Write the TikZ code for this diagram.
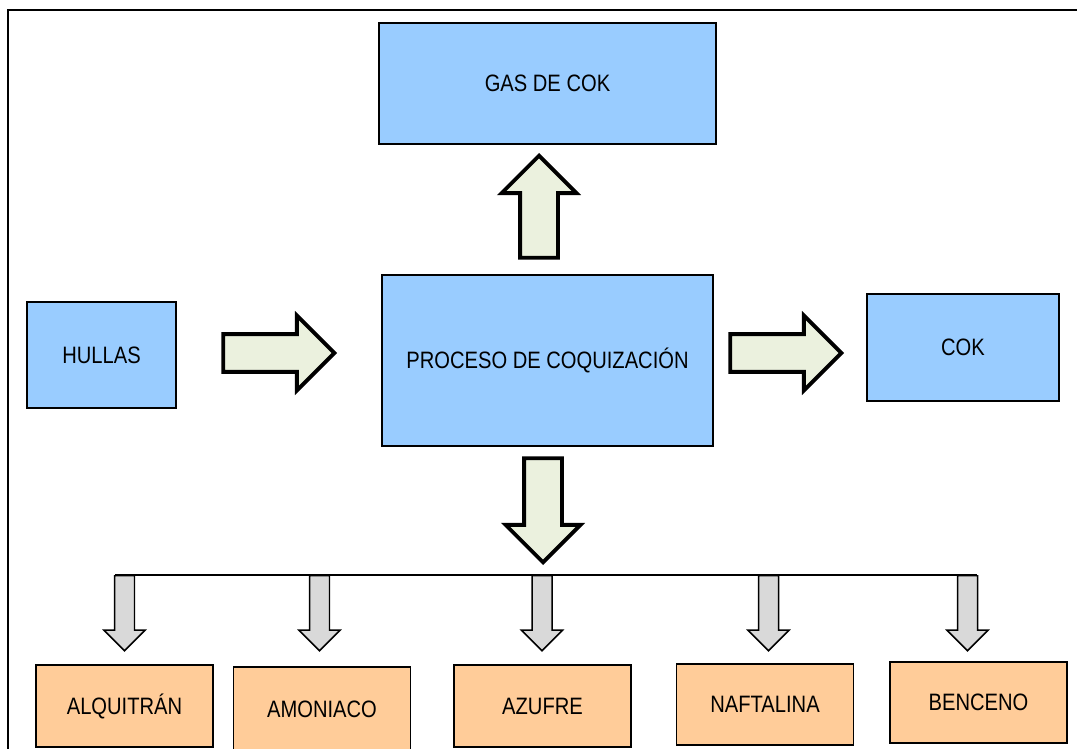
\documentclass[tikz,border=0pt]{standalone}
\usepackage{fontspec}
\setmainfont{Liberation Sans}[FakeStretch=0.85]
\usepackage{xcolor}
\definecolor{cokblue}{RGB}{153,204,255}
\definecolor{cokorange}{RGB}{255,204,153}
\definecolor{arrowfill}{RGB}{235,241,222}
\definecolor{arrowgray}{RGB}{217,217,217}
\usetikzlibrary{
  shapes.arrows,
  calc
}

\begin{document}
\begin{tikzpicture}[
  x=0.02cm, y=-0.02cm,
  box/.style={
    draw, line width=0.85pt, inner sep=0pt, align=center,
    font=\fontsize{13.5}{16}\selectfont,
  },
  bluebox/.style={box, fill=cokblue},
  prodbox/.style={box, fill=cokorange, minimum width=3.54cm},
  bigarrow/.style={
    single arrow, draw, line width=2.2pt, fill=arrowfill, anchor=tip,
    inner xsep=0pt, inner ysep=0.34cm, single arrow head extend=0.37cm,
    minimum height=#1,
  },
  smallarrow/.style={
    single arrow, draw, line width=0.85pt, fill=arrowgray, anchor=tail,
    inner xsep=0pt, inner ysep=0.185cm, single arrow head extend=0.21cm,
    minimum height=1.5cm, rotate=-90,
  },
]
\useasboundingbox (0,0) rectangle (1077,749);

% Outer frame
\draw[line width=1.1pt] (8,10) rectangle (1100,780);

% Main process row
\node[bluebox, minimum width=6.74cm, minimum height=2.42cm] (gas)    at (547.5,83.5) {GAS DE COK};
\node[bluebox, minimum width=2.98cm, minimum height=2.12cm] (hullas) at (101.5,355)  {HULLAS};
\node[bluebox, minimum width=6.62cm, minimum height=3.42cm] (proc)   at (547.5,360.5) {PROCESO DE COQUIZACIÓN};
\node[bluebox, minimum width=3.84cm, minimum height=2.14cm] (cok)    at (963,347.5)  {COK};

% Block arrows between boxes (placed by their tips)
\node[bigarrow=2.04cm, rotate=90]  (toGas)  at (539,153) {};
\node[bigarrow=2.22cm]             (toProc) at (337,353) {};
\node[bigarrow=2.22cm]             (toCok)  at (844,353) {};
\node[bigarrow=2.08cm, rotate=-90] (toProd) at (543,565) {};

% Branch line to the by-products
\coordinate (busL) at (115,575);
\coordinate (busR) at (977,575);
\draw[line width=0.85pt] (busL) -- (busR);

% By-products
\foreach \n/\a/\x/\y/\h/\t in {alq/124.5/124.5/706/1.64/ALQUITRÁN, amo/319.5/322/709/1.68/AMONIACO,
    azu/542/542.5/706/1.64/AZUFRE, naf/768.5/765/704.5/1.62/NAFTALINA, ben/967.5/978.5/702.5/1.62/BENCENO} {
  \node[smallarrow] (s-\n) at (\a,575) {};
  \node[prodbox, minimum height=\h cm] (\n) at (\x,\y) {\t};
}

\end{tikzpicture}
\end{document}
